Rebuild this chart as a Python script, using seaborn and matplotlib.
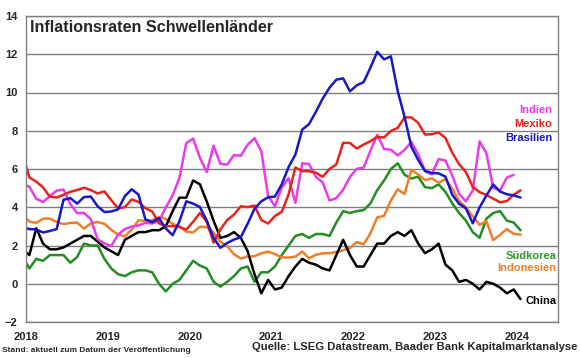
import numpy as np
import pandas as pd
import matplotlib
matplotlib.use("Agg")
import matplotlib.pyplot as plt
import seaborn as sns

# Monatswerte Dez 2017 .. Jan 2024 (Inflation ggü. Vorjahr, %)
monate = pd.date_range("2017-12-01", "2024-01-01", freq="MS")

brasilien = [2.95,
    2.86, 2.84, 2.68, 2.76, 2.86, 4.39, 4.48, 4.19, 4.53, 4.56, 4.05, 3.75,
    3.78, 3.89, 4.58, 4.94, 4.66, 3.37, 3.22, 3.43, 2.89, 2.54, 3.27, 4.31,
    4.19, 4.01, 3.30, 2.40, 1.88, 2.13, 2.31, 2.44, 3.14, 3.92, 4.31, 4.52,
    4.56, 5.20, 6.10, 6.76, 8.06, 8.35, 8.99, 9.68, 10.25, 10.67, 10.74, 10.06,
    10.38, 10.54, 11.30, 12.13, 11.73, 11.89, 10.07, 8.73, 7.17, 6.47, 5.90, 5.79,
    5.77, 5.60, 4.65, 4.18, 3.94, 3.16, 3.99, 4.61, 5.19, 4.82, 4.68, 4.62,
    4.51]
mexiko = [6.77,
    5.55, 5.34, 5.04, 4.55, 4.51, 4.65, 4.81, 4.90, 5.02, 4.90, 4.72, 4.83,
    4.37, 3.94, 4.00, 4.41, 4.28, 3.95, 3.78, 3.16, 3.00, 3.02, 2.97, 2.83,
    3.24, 3.70, 3.25, 2.15, 2.84, 3.33, 3.62, 4.05, 4.01, 4.09, 3.33, 3.15,
    3.54, 3.76, 4.67, 6.08, 5.89, 5.88, 5.81, 5.59, 6.00, 6.24, 7.37, 7.36,
    7.07, 7.28, 7.45, 7.68, 7.65, 7.99, 8.15, 8.70, 8.70, 8.41, 7.80, 7.82,
    7.91, 7.62, 6.85, 6.25, 5.84, 5.06, 4.79, 4.64, 4.45, 4.26, 4.32, 4.66,
    4.88]
indien = [5.21,
    5.07, 4.44, 4.28, 4.58, 4.87, 4.92, 4.17, 3.69, 3.70, 3.38, 2.33, 2.11,
    1.97, 2.57, 2.86, 2.99, 3.05, 3.18, 3.15, 3.28, 3.99, 4.62, 5.54, 7.35,
    7.59, 6.58, 5.84, 7.22, 6.27, 6.23, 6.73, 6.69, 7.27, 7.61, 6.93, 4.59,
    4.06, 5.03, 5.52, 4.23, 6.30, 6.26, 5.59, 5.30, 4.35, 4.48, 4.91, 5.59,
    6.01, 6.07, 6.95, 7.79, 7.04, 7.01, 6.71, 7.00, 7.41, 6.77, 5.88, 5.72,
    6.52, 6.44, 5.66, 4.70, 4.31, 4.87, 7.44, 6.83, 5.02, 4.87, 5.55, 5.69,
    np.nan]
china = [1.8,
    1.5, 2.9, 2.1, 1.8, 1.8, 1.9, 2.1, 2.3, 2.5, 2.5, 2.2, 1.9,
    1.7, 1.5, 2.3, 2.5, 2.7, 2.7, 2.8, 2.8, 3.0, 3.8, 4.5, 4.5,
    5.4, 5.2, 4.3, 3.3, 2.4, 2.5, 2.7, 2.4, 1.7, 0.5, -0.5, 0.2,
    -0.3, -0.2, 0.4, 0.9, 1.3, 1.1, 1.0, 0.8, 0.7, 1.5, 2.3, 1.5,
    0.9, 0.9, 1.5, 2.1, 2.1, 2.5, 2.7, 2.5, 2.8, 2.1, 1.6, 1.8,
    2.1, 1.0, 0.7, 0.1, 0.2, 0.0, -0.3, 0.1, 0.0, -0.2, -0.5, -0.3,
    -0.8]
suedkorea = [1.4,
    0.8, 1.3, 1.2, 1.5, 1.5, 1.5, 1.1, 1.4, 2.1, 2.0, 2.0, 1.3,
    0.8, 0.5, 0.4, 0.6, 0.7, 0.7, 0.6, 0.0, -0.4, 0.0, 0.2, 0.7,
    1.2, 0.95, 0.8, 0.1, -0.15, 0.1, 0.4, 0.8, 0.9, 0.1, 0.6, 0.6,
    0.9, 1.5, 2.0, 2.5, 2.6, 2.4, 2.6, 2.6, 2.5, 3.2, 3.8, 3.7,
    3.8, 3.85, 4.2, 4.9, 5.4, 6.0, 6.3, 5.7, 5.5, 5.6, 5.05, 5.0,
    5.2, 4.8, 4.2, 3.7, 3.3, 2.7, 2.4, 3.4, 3.7, 3.8, 3.3, 3.2,
    2.8]
indonesien = [3.61,
    3.25, 3.18, 3.40, 3.41, 3.23, 3.12, 3.18, 3.20, 2.88, 3.16, 3.23, 3.13,
    2.82, 2.57, 2.48, 2.83, 3.32, 3.28, 3.32, 3.49, 3.39, 3.13, 3.00, 2.72,
    2.68, 2.98, 2.96, 2.67, 2.19, 1.96, 1.54, 1.32, 1.42, 1.44, 1.59, 1.68,
    1.55, 1.38, 1.37, 1.42, 1.68, 1.33, 1.52, 1.59, 1.60, 1.66, 1.75, 1.87,
    2.18, 2.06, 2.64, 3.47, 3.55, 4.35, 4.94, 4.69, 5.95, 5.71, 5.42, 5.51,
    5.28, 5.47, 4.97, 4.33, 4.00, 3.52, 3.08, 3.27, 2.28, 2.56, 2.86, 2.61,
    2.57]

laender = ["Südkorea", "Indonesien", "China", "Indien", "Mexiko", "Brasilien"]
werte = [suedkorea, indonesien, china, indien, mexiko, brasilien]
farben = {"Indien": "#E83CE8", "Mexiko": "#E8231E", "Brasilien": "#1818C8",
          "Südkorea": "#238C23", "Indonesien": "#F07D28", "China": "#000000"}

# Zeitachse als Dezimaljahr (Monatsmitte)
t = monate.year + (monate.month - 0.5) / 12
df = pd.concat([pd.DataFrame({"t": t, "wert": w, "land": l}) for l, w in zip(laender, werte)])
df = df.dropna()

sns.set_style("white")
plt.rcParams['font.family'] = ['Liberation Sans', 'DejaVu Sans']
plt.rcParams['font.weight'] = 'bold'

fig = plt.figure(figsize=(5.8, 3.58), dpi=100)
ax = fig.add_axes([26/580, 1 - 322/358, 532/580, 306/358])

sns.lineplot(data=df, x="t", y="wert", hue="land", palette=farben, estimator=None,
             linewidth=1.8, legend=False, ax=ax)

ax.set_xlim(2018, 2024.5)
ax.set_ylim(-2, 14)
ax.set_yticks(range(-2, 15, 2))
ax.set_xticks(range(2018, 2025))
ax.set_xlabel("")
ax.set_ylabel("")
ax.yaxis.grid(True, color="#808080", linewidth=1)
ax.set_axisbelow(True)
for s in ax.spines.values():
    s.set_color("#808080")
    s.set_linewidth(1)
ax.tick_params(axis="both", length=3, color="#808080", labelsize=8, width=1)
ax.tick_params(axis="x", pad=4)
ax.tick_params(axis="y", pad=3)

ax.text(0.008, 0.964, "Inflationsraten Schwellenländer", transform=ax.transAxes,
        fontsize=11.6, fontweight="bold", va="center", ha="left")

# Beschriftungen der Linien
ax.text(2024.43, 9.09, "Indien", color=farben["Indien"], ha="right", va="center", fontsize=8, fontweight="bold")
ax.text(2024.43, 8.36, "Mexiko", color=farben["Mexiko"], ha="right", va="center", fontsize=8, fontweight="bold")
ax.text(2024.43, 7.62, "Brasilien", color=farben["Brasilien"], ha="right", va="center", fontsize=8, fontweight="bold")
ax.text(2024.48, 1.46, "Südkorea", color="#2E9A2E", ha="right", va="center", fontsize=8, fontweight="bold")
ax.text(2024.48, 0.84, "Indonesien", color=farben["Indonesien"], ha="right", va="center", fontsize=8, fontweight="bold")
ax.text(2024.48, -0.89, "China", color="black", ha="right", va="center", fontsize=8, fontweight="bold")

fig.text(2/580, 1 - 351/358, "Stand: aktuell zum Datum der Veröffentlichung",
         fontsize=6, fontweight="bold", va="center", ha="left")
fig.text(577/580, 1 - 347/358, "Quelle: LSEG Datastream, Baader Bank Kapitalmarktanalyse",
         fontsize=8.15, fontweight="bold", va="center", ha="right")

fig.savefig("out.png", dpi=100)
